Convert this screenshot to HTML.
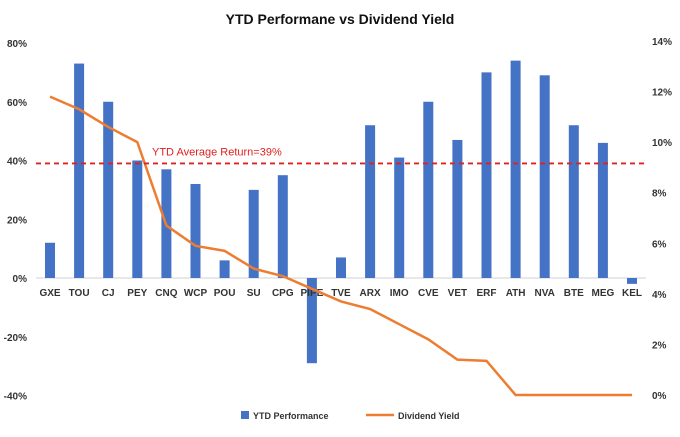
<!DOCTYPE html>
<html><head><meta charset="utf-8"><style>
body{margin:0;background:#fff;font-family:"Liberation Sans",sans-serif}
svg text{font-family:"Liberation Sans",sans-serif;font-weight:bold;fill:#333}
</style></head><body>
<svg id="c" width="680" height="432">
<text x="340" y="24" text-anchor="middle" font-size="14" style="fill:#111">YTD Performane vs Dividend Yield</text>
<g id="g"></g>
</svg>
<script>
const categories=["GXE","TOU","CJ","PEY","CNQ","WCP","POU","SU","CPG","PIPE","TVE","ARX","IMO","CVE","VET","ERF","ATH","NVA","BTE","MEG","KEL"];
const ytdPerformance=[12,73,60,40,37,32,6,30,35,-29,7,52,41,60,47,70,74,69,52,46,-2];
const dividendYield=[11.8,11.3,10.6,10.0,6.7,5.9,5.7,5.0,4.7,4.2,3.7,3.4,2.8,2.2,1.4,1.35,0,0,0,0,0];
const leftTicks=[80,60,40,20,0,-20,-40];
const rightTicks=[14,12,10,8,6,4,2,0];
const avgReturn=39;
const NS="http://www.w3.org/2000/svg",g=document.getElementById('g');
const yL=v=>278-(v/20)*58.75;
const yR=v=>395-(v/14)*354;
const x=i=>50+i*29.1;
function el(t,a,txt){const e=document.createElementNS(NS,t);for(const k in a)e.setAttribute(k,a[k]);if(txt!=null)e.textContent=txt;g.appendChild(e);return e;}
leftTicks.forEach(v=>{const t=el('text',{x:27,y:yL(v)+4,'text-anchor':'end','font-size':10},v+'%');

});
rightTicks.forEach(v=>{const t=el('text',{x:652,y:yR(v)+4,'font-size':10},v+'%');

});
const ax=el('line',{x1:36,x2:646,y1:yL(0),y2:yL(0),stroke:'#d0d0d0'});


ytdPerformance.forEach((v,i)=>{const y0=yL(0),y1=yL(v);
const r=el('rect',{x:x(i)-5,y:Math.min(y0,y1),width:10,height:Math.abs(y1-y0),fill:'#4472C4'});

});
categories.forEach((c,i)=>{const t=el('text',{x:x(i),y:296,'text-anchor':'middle','font-size':10},c);

});
const p=el('polyline',{points:dividendYield.map((v,i)=>x(i)+','+yR(v)).join(' '),fill:'none',stroke:'#ED7D31','stroke-width':2.5});


const a=el('line',{x1:36,x2:646,y1:yL(avgReturn),y2:yL(avgReturn),stroke:'#E02020','stroke-width':1.8,'stroke-dasharray':'5,4'});


const at=el('text',{x:152,y:yL(avgReturn)-8,'font-size':11,style:'fill:#E02020;font-weight:normal'},'YTD Average Return='+avgReturn+'%');


const l1=el('rect',{x:241,y:411,width:8,height:8,fill:'#4472C4'});


const l1t=el('text',{x:253,y:419,'font-size':9},'YTD Performance');


const l2=el('line',{x1:366,x2:394,y1:415,y2:415,stroke:'#ED7D31','stroke-width':2.5});


const l2t=el('text',{x:398,y:419,'font-size':9},'Dividend Yield');


</script>
</body></html>
